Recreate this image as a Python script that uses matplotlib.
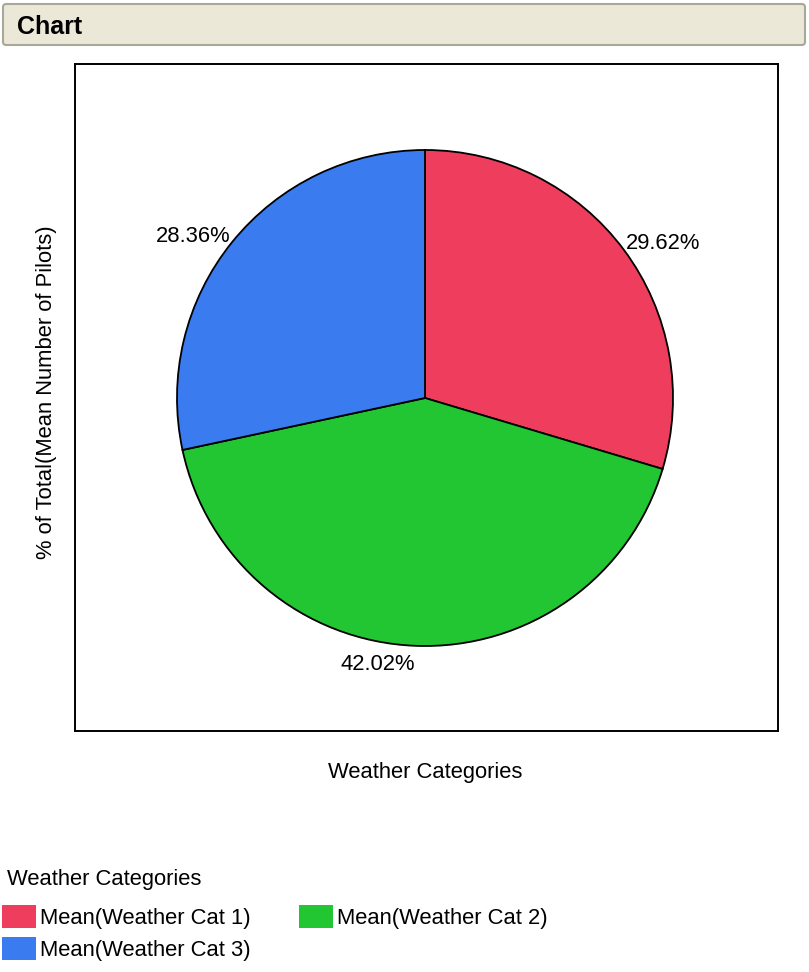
import matplotlib.pyplot as plt
from matplotlib.patches import FancyBboxPatch
from matplotlib import rcParams

rcParams['font.family'] = ['Liberation Sans', 'DejaVu Sans']

categories = ['Mean(Weather Cat 1)', 'Mean(Weather Cat 2)', 'Mean(Weather Cat 3)']
shares = [29.62, 42.02, 28.36]
colors = ['#EF3D5E', '#22C532', '#3A7BEF']

W, H = 809, 972
FS = 15.8
fig = plt.figure(figsize=(W / 100, H / 100), dpi=100)


def box(x0, y0, x1, y1):
    # pixel box (top-left origin) -> figure fraction rect
    return [x0 / W, 1 - y1 / H, (x1 - x0) / W, (y1 - y0) / H]


# header bar
hdr = FancyBboxPatch((3 / W, 1 - 45 / H), 802 / W, 41 / H,
                     boxstyle='round,pad=0,rounding_size=0.004',
                     mutation_aspect=W / H, transform=fig.transFigure,
                     facecolor='#ECE8D8', edgecolor='#A8A89A', linewidth=1.5)
fig.patches.append(hdr)
fig.text(17 / W, 1 - 27 / H, 'Chart', fontsize=18, fontweight='bold', va='center', ha='left')

# plot frame, data units = pixels
ax = fig.add_axes(box(75, 64, 778, 731))
cx, cy = 350, 333
wedges, texts, autotexts = ax.pie(
    shares, colors=colors, startangle=90, counterclock=False,
    center=(cx, cy), radius=248, frame=True,
    autopct='%.2f%%', pctdistance=1.01,
    wedgeprops=dict(edgecolor='black', linewidth=1.3),
    textprops=dict(fontsize=FS))
# anchor each percentage label just outside the rim
for t in autotexts:
    x, y = t.get_position()
    t.set_ha('left' if x > cx else 'right')
    t.set_va('bottom' if y > cy else 'top')
    t.set_y(y - 6)
ax.set_xlim(0, 703)
ax.set_ylim(0, 667)
ax.set_xticks([])
ax.set_yticks([])
for s in ax.spines.values():
    s.set_linewidth(1.4)

fig.text(425 / W, 1 - 772 / H, 'Weather Categories', fontsize=FS, ha='center', va='center')
fig.text(47 / W, 1 - 392 / H, '% of Total(Mean Number of Pilots)', fontsize=FS,
         ha='center', va='center', rotation=90)

# legend, row-major order
fig.text(7 / W, 1 - 879 / H, 'Weather Categories', fontsize=FS, ha='left', va='center')
order = [0, 2, 1]
leg = fig.legend([wedges[i] for i in order], [categories[i] for i in order],
                 ncol=2, loc='upper left',
                 bbox_to_anchor=(0 / W, 1 - 903 / H), frameon=False,
                 fontsize=FS, handlelength=1.55, handleheight=1.23, handletextpad=0.18,
                 columnspacing=2.2, labelspacing=0.38, borderpad=0.1,
                 borderaxespad=0)
for h in leg.legend_handles:
    h.set_edgecolor('none')

fig.savefig('out.png', dpi=100)
